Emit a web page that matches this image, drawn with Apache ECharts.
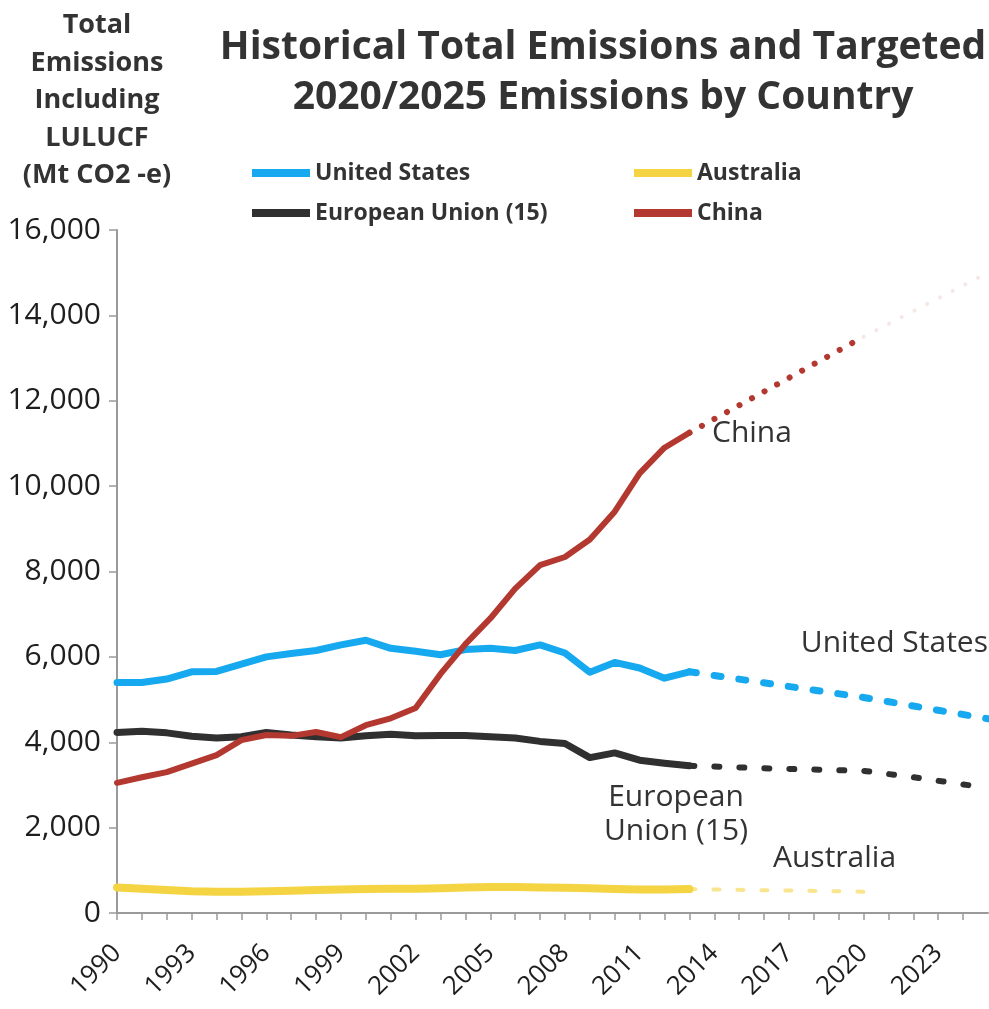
<!DOCTYPE html>
<html>
<head>
<meta charset="utf-8">
<title>Historical Total Emissions and Targeted 2020/2025 Emissions by Country</title>
<script src="https://cdn.jsdelivr.net/npm/echarts@6/dist/echarts.min.js"></script>
<style>
  html, body { margin: 0; padding: 0; background: #ffffff; }
  #chart { width: 989px; height: 1009px; }
</style>
</head>
<body>
<div id="chart"></div>
<script>
// Historical emissions including LULUCF (Mt CO2-e), 1990-2013
const years = [1990, 1991, 1992, 1993, 1994, 1995, 1996, 1997, 1998, 1999, 2000, 2001,
               2002, 2003, 2004, 2005, 2006, 2007, 2008, 2009, 2010, 2011, 2012, 2013];
const unitedStates = [5400, 5400, 5480, 5650, 5660, 5830, 6000, 6080, 6150, 6280, 6390, 6200,
                      6130, 6050, 6170, 6200, 6150, 6280, 6090, 5640, 5870, 5740, 5500, 5650];
const europeanUnion = [4230, 4260, 4220, 4140, 4100, 4130, 4230, 4170, 4130, 4100, 4150, 4190,
                       4150, 4160, 4160, 4130, 4100, 4020, 3970, 3640, 3750, 3580, 3510, 3450];
const australia = [600, 570, 540, 510, 500, 500, 510, 520, 540, 550, 560, 570,
                   570, 580, 600, 610, 610, 600, 590, 580, 560, 550, 550, 560];
const china = [3050, 3180, 3300, 3500, 3700, 4050, 4170, 4150, 4240, 4120, 4400, 4560,
               4800, 5600, 6300, 6900, 7600, 8150, 8340, 8750, 9400, 10300, 10900, 11250];

// Targeted pathways
const usTargetYears = [2013, 2020, 2025];
const usTarget = [5650, 5050, 4550];
const euTargetYears = [2013, 2016, 2020, 2022, 2025];
const euTarget = [3450, 3390, 3330, 3180, 2930];
const auTargetYears = [2013, 2020];
const auTarget = [560, 500];
const cnTargetYears = [2013, 2020];
const cnTarget = [11250, 13500];
const cnOutlookYears = [2020, 2025];
const cnOutlook = [13500, 15000];

// Axis settings
const yearMin = 1990, yearMax = 2025, yearLabelStep = 3;
const yMax = 16000, yStep = 2000;

const COLORS = {
  us: '#17a9ef',
  eu: '#303030',
  au: '#f4d443',
  cn: '#b3382f'
};

const pairs = (xs, ys) => xs.map((x, i) => [x, ys[i]]);
const FONT = '"Open Sans", "Noto Sans", sans-serif';

const chart = echarts.init(document.getElementById('chart'), null, { renderer: 'canvas' });

const solid = (name, color, data, width, z) => ({
  name, type: 'line', data, showSymbol: false, symbol: 'none', z,
  lineStyle: { color, width, cap: 'round', join: 'round' },
  itemStyle: { color },
  emphasis: { disabled: true }
});

const dotted = (name, color, data, width, dash, opacity, z) => ({
  name, type: 'line', data, showSymbol: false, symbol: 'none', z,
  lineStyle: { color, width, type: dash, cap: 'round', opacity },
  itemStyle: { color },
  emphasis: { disabled: true }
});

const legendText = {
  fontFamily: FONT, fontWeight: 700, fontSize: 23, lineHeight: 28, color: '#333333'
};

chart.setOption({
  animation: false,
  backgroundColor: '#ffffff',
  title: [
    {
      text: 'Historical Total Emissions and Targeted\n2020/2025 Emissions by Country',
      left: 598, top: 18, textAlign: 'center',
      textStyle: { fontFamily: FONT, fontWeight: 700, fontSize: 39, lineHeight: 50, color: '#333333' }
    },
    {
      text: 'Total\nEmissions\nIncluding\nLULUCF\n(Mt CO2 -e)',
      left: 92, top: 2, textAlign: 'center',
      textStyle: { fontFamily: FONT, fontWeight: 700, fontSize: 27, lineHeight: 37.5, color: '#333333' }
    }
  ],
  legend: [
    {
      data: ['United States', 'European Union (15)'],
      orient: 'vertical', left: 247, top: 154, itemGap: 12,
      itemWidth: 58, itemHeight: 8, icon: 'rect',
      selectedMode: false,
      textStyle: legendText
    },
    {
      data: ['Australia', 'China'],
      orient: 'vertical', left: 629, top: 154, itemGap: 12,
      itemWidth: 58, itemHeight: 8, icon: 'rect',
      selectedMode: false,
      textStyle: legendText
    }
  ],
  grid: { left: 117, right: 1, top: 230, bottom: 96, containLabel: false, outerBoundsMode: 'none' },
  xAxis: {
    type: 'value', min: yearMin, max: yearMax, interval: 1,
    axisLine: { show: true, lineStyle: { color: '#9a9a9a', width: 2 } },
    axisTick: { show: true, length: 7, lineStyle: { color: '#9a9a9a', width: 1.5 } },
    splitLine: { show: false },
    axisLabel: {
      rotate: 45, margin: 36, color: '#1e1e1e', fontFamily: FONT, fontSize: 26,
      showMinLabel: true, showMaxLabel: false,
      formatter: v => ((v - yearMin) % yearLabelStep === 0 ? String(v) : '')
    }
  },
  yAxis: {
    type: 'value', min: 0, max: yMax, interval: yStep,
    axisLine: { show: true, lineStyle: { color: '#9a9a9a', width: 2 } },
    axisTick: { show: true, length: 8, lineStyle: { color: '#9a9a9a', width: 1.5 } },
    splitLine: { show: false },
    axisLabel: {
      margin: 16, color: '#1e1e1e', fontFamily: FONT, fontSize: 30,
      formatter: v => v.toLocaleString('en-US')
    }
  },
  series: [
    solid('Australia', COLORS.au, pairs(years, australia), 8, 2),
    dotted('Australia target', COLORS.au, pairs(auTargetYears, auTarget), 4, [6, 18], 0.6, 2),
    solid('European Union (15)', COLORS.eu, pairs(years, europeanUnion), 7, 3),
    dotted('European Union (15) target', COLORS.eu, pairs(euTargetYears, euTarget), 6, [5, 20], 1, 3),
    solid('United States', COLORS.us, pairs(years, unitedStates), 7, 4),
    dotted('United States target', COLORS.us, pairs(usTargetYears, usTarget), 7, [7, 18], 1, 4),
    solid('China', COLORS.cn, pairs(years, china), 6, 5),
    dotted('China target', COLORS.cn, pairs(cnTargetYears, cnTarget), 6, [0.1, 14.2], 1, 5),
    dotted('China outlook', COLORS.cn, pairs(cnOutlookYears, cnOutlook), 4, [0.1, 14.2], 0.12, 5)
  ],
  graphic: [
    { type: 'text', left: 712, top: 418, style: { text: 'China', font: '30px ' + FONT, fill: '#333333' } },
    { type: 'text', right: 1, top: 628, style: { text: 'United States', font: '30px ' + FONT, fill: '#333333' } },
    {
      type: 'text', x: 676, y: 814,
      style: { text: 'European\nUnion (15)', font: '30px ' + FONT, lineHeight: 34, fill: '#333333',
               align: 'center', verticalAlign: 'middle' }
    },
    { type: 'text', left: 773, top: 843, style: { text: 'Australia', font: '30px ' + FONT, fill: '#333333' } }
  ]
});
</script>
</body>
</html>
